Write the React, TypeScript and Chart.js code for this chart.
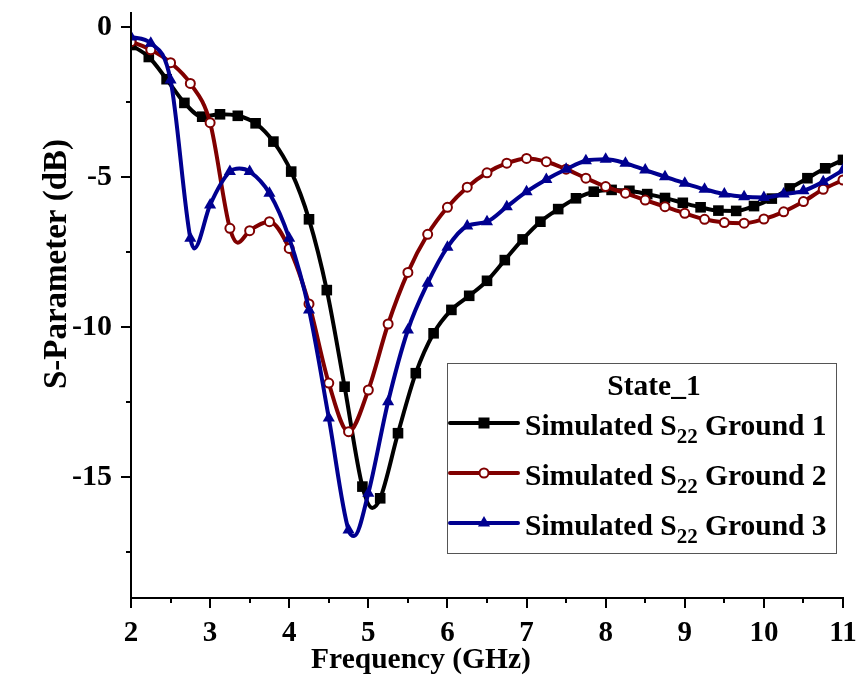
import React, { useEffect, useRef } from "react";
import { Chart, registerables } from "chart.js";
Chart.register(...registerables);

// ---- axis ranges & ticks ----
const X_MIN = 2;
const X_MAX = 11;
const Y_MIN = -19;
const Y_MAX = 0.5;
const xMajorTicks = [2, 3, 4, 5, 6, 7, 8, 9, 10, 11];
const xMinorTicks = [2.5, 3.5, 4.5, 5.5, 6.5, 7.5, 8.5, 9.5, 10.5];
const yMajorTicks = [0, -5, -10, -15];
const yMinorTicks = [-2.5, -7.5, -12.5, -17.5];
const xTitle = "Frequency (GHz)";
const yTitle = "S-Parameter (dB)";

// ---- series: Simulated S22 Ground 1 ----
const ground1X = [2, 2.225, 2.45, 2.675, 2.9, 3.125, 3.35, 3.575, 3.8, 4.025, 4.25, 4.475, 4.7, 4.925, 5.05, 5.15, 5.375, 5.6, 5.825, 6.05, 6.275, 6.5, 6.725, 6.95, 7.175, 7.4, 7.625, 7.85, 8.075, 8.3, 8.525, 8.75, 8.975, 9.2, 9.425, 9.65, 9.875, 10.1, 10.325, 10.55, 10.775, 11];
const ground1Y = [-0.6, -1.0, -1.74, -2.53, -2.99, -2.91, -2.96, -3.21, -3.82, -4.82, -6.41, -8.77, -11.99, -15.32, -16.03, -15.71, -13.54, -11.54, -10.21, -9.43, -8.96, -8.46, -7.77, -7.08, -6.49, -6.07, -5.71, -5.49, -5.43, -5.46, -5.57, -5.7, -5.86, -6.01, -6.12, -6.13, -5.97, -5.72, -5.38, -5.04, -4.71, -4.43];
const ground1Unmarked = [5.05];

// ---- series: Simulated S22 Ground 2 ----
const ground2X = [2, 2.25, 2.5, 2.75, 3, 3.25, 3.35, 3.5, 3.75, 4, 4.25, 4.5, 4.75, 5, 5.25, 5.5, 5.75, 6, 6.25, 6.5, 6.75, 7, 7.25, 7.5, 7.75, 8, 8.25, 8.5, 8.75, 9, 9.25, 9.5, 9.75, 10, 10.25, 10.5, 10.75, 11];
const ground2Y = [-0.49, -0.76, -1.19, -1.88, -3.19, -6.71, -7.19, -6.79, -6.49, -7.38, -9.23, -11.87, -13.49, -12.1, -9.9, -8.18, -6.91, -6.01, -5.34, -4.86, -4.54, -4.38, -4.49, -4.74, -5.04, -5.32, -5.54, -5.77, -5.99, -6.21, -6.41, -6.52, -6.54, -6.4, -6.16, -5.82, -5.41, -5.1];
const ground2Unmarked = [3.35];

// ---- series: Simulated S22 Ground 3 ----
const ground3X = [2, 2.25, 2.5, 2.75, 2.8, 3, 3.25, 3.37, 3.5, 3.75, 4, 4.25, 4.5, 4.75, 4.82, 5, 5.25, 5.5, 5.75, 6, 6.25, 6.5, 6.75, 7, 7.25, 7.5, 7.75, 8, 8.25, 8.5, 8.75, 9, 9.25, 9.5, 9.75, 10, 10.25, 10.5, 10.75, 11];
const ground3Y = [-0.33, -0.54, -1.77, -7.04, -7.38, -5.93, -4.82, -4.72, -4.82, -5.54, -7.04, -9.43, -13.03, -16.77, -16.97, -15.54, -12.49, -10.1, -8.54, -7.34, -6.63, -6.49, -5.99, -5.49, -5.08, -4.74, -4.46, -4.41, -4.54, -4.77, -4.99, -5.21, -5.41, -5.57, -5.66, -5.68, -5.57, -5.46, -5.16, -4.77];
const ground3Unmarked = [2.8, 3.37, 4.82];

const legendTitle = "State_1";
const legendLabels = [
  { pre: "Simulated S", sub: "22", post: " Ground 1" },
  { pre: "Simulated S", sub: "22", post: " Ground 2" },
  { pre: "Simulated S", sub: "22", post: " Ground 3" },
];

const BLACK = "#000000";
const RED = "#800000";
const BLUE = "#000090";
const FONT = "'Times New Roman', 'Liberation Serif', serif";

function pts(xs: number[], ys: number[]) {
  return xs.map((x, i) => ({ x, y: ys[i] }));
}

function drawMarker(ctx: CanvasRenderingContext2D, style: string, x: number, y: number, color: string) {
  ctx.save();
  if (style === "rect") {
    ctx.fillStyle = color;
    ctx.fillRect(x - 5.5, y - 5.5, 11, 11);
  } else if (style === "circle") {
    ctx.beginPath();
    ctx.arc(x, y, 4.5, 0, Math.PI * 2);
    ctx.fillStyle = "#ffffff";
    ctx.fill();
    ctx.lineWidth = 2;
    ctx.strokeStyle = color;
    ctx.stroke();
  } else {
    const r = 7;
    ctx.beginPath();
    ctx.moveTo(x, y - r);
    ctx.lineTo(x + r * Math.sin((2 * Math.PI) / 3), y - r * Math.cos((2 * Math.PI) / 3));
    ctx.lineTo(x + r * Math.sin((4 * Math.PI) / 3), y - r * Math.cos((4 * Math.PI) / 3));
    ctx.closePath();
    ctx.fillStyle = color;
    ctx.fill();
  }
  ctx.restore();
}

const axesPlugin = {
  id: "customAxes",
  afterDatasetsDraw(chart: any) {
    const { ctx, chartArea, scales } = chart;
    const xs = scales.x;
    const ys = scales.y;
    ctx.save();
    ctx.strokeStyle = "#000";
    ctx.lineWidth = 2;
    ctx.lineCap = "butt";
    ctx.beginPath();
    ctx.moveTo(chartArea.left, chartArea.top);
    ctx.lineTo(chartArea.left, chartArea.bottom + 1);
    ctx.lineTo(chartArea.right, chartArea.bottom + 1);
    ctx.stroke();
    ctx.beginPath();
    for (const v of xMajorTicks) {
      const px = Math.round(xs.getPixelForValue(v));
      ctx.moveTo(px, chartArea.bottom);
      ctx.lineTo(px, chartArea.bottom + 11);
    }
    for (const v of xMinorTicks) {
      const px = Math.round(xs.getPixelForValue(v));
      ctx.moveTo(px, chartArea.bottom);
      ctx.lineTo(px, chartArea.bottom + 6);
    }
    for (const v of yMajorTicks) {
      const py = Math.round(ys.getPixelForValue(v));
      ctx.moveTo(chartArea.left, py);
      ctx.lineTo(chartArea.left - 10, py);
    }
    for (const v of yMinorTicks) {
      const py = Math.round(ys.getPixelForValue(v));
      ctx.moveTo(chartArea.left, py);
      ctx.lineTo(chartArea.left - 5, py);
    }
    ctx.stroke();

    // axis titles
    ctx.fillStyle = "#000";
    ctx.textAlign = "center";
    ctx.textBaseline = "middle";
    ctx.font = `bold 29.5px ${FONT}`;
    ctx.fillText(xTitle, 421, 660);
    ctx.translate(57, 264);
    ctx.rotate(-Math.PI / 2);
    ctx.font = `bold 33px ${FONT}`;
    ctx.fillText(yTitle, 0, 0);
    ctx.restore();
  },
};

const legendPlugin = {
  id: "customLegend",
  afterDraw(chart: any) {
    const { ctx } = chart;
    const bx = 447, by = 363, bw = 389, bh = 190;
    ctx.save();
    ctx.fillStyle = "#ffffff";
    ctx.fillRect(bx, by, bw, bh);
    ctx.strokeStyle = "#555555";
    ctx.lineWidth = 1;
    ctx.strokeRect(bx + 0.5, by + 0.5, bw, bh);

    ctx.fillStyle = "#000";
    ctx.font = `bold 29.5px ${FONT}`;
    ctx.textAlign = "center";
    ctx.textBaseline = "alphabetic";
    ctx.fillText(legendTitle, 654, 395);

    const colors = [BLACK, RED, BLUE];
    const styles = ["rect", "circle", "triangle"];
    const rowsY = [423, 473, 523];
    legendLabels.forEach((lab, i) => {
      const y = rowsY[i];
      ctx.strokeStyle = colors[i];
      ctx.lineWidth = 4;
      ctx.lineCap = "round";
      ctx.beginPath();
      ctx.moveTo(450, y);
      ctx.lineTo(518, y);
      ctx.stroke();
      drawMarker(ctx, styles[i], 484, y, colors[i]);

      ctx.fillStyle = "#000";
      ctx.textAlign = "left";
      let tx = 525;
      const base = y + 12;
      ctx.font = `bold 29.5px ${FONT}`;
      ctx.fillText(lab.pre, tx, base);
      tx += ctx.measureText(lab.pre).width;
      ctx.font = `bold 21px ${FONT}`;
      ctx.fillText(lab.sub, tx, base + 8);
      tx += ctx.measureText(lab.sub).width;
      ctx.font = `bold 29.5px ${FONT}`;
      ctx.fillText(lab.post, tx, base);
    });
    ctx.restore();
  },
};

export default function App() {
  const ref = useRef<HTMLCanvasElement | null>(null);
  useEffect(() => {
    if (!ref.current) return;
    const mk = (unmarked: number[], r: number) => (c: any) =>
      c.raw && unmarked.includes(c.raw.x) ? 0 : r;
    const chart = new Chart(ref.current, {
      type: "line",
      data: {
        datasets: [
          {
            label: "Simulated S22 Ground 1",
            data: pts(ground1X, ground1Y),
            borderColor: BLACK,
            backgroundColor: BLACK,
            borderWidth: 4,
            pointStyle: "rect",
            pointRadius: mk(ground1Unmarked, 7.5),
            pointBorderWidth: 0,
            pointBackgroundColor: BLACK,
            cubicInterpolationMode: "monotone",
            order: 3,
          },
          {
            label: "Simulated S22 Ground 2",
            data: pts(ground2X, ground2Y),
            borderColor: RED,
            backgroundColor: "#ffffff",
            borderWidth: 4,
            pointStyle: "circle",
            pointRadius: mk(ground2Unmarked, 4.5),
            pointBorderWidth: 2,
            pointBorderColor: RED,
            pointBackgroundColor: "#ffffff",
            cubicInterpolationMode: "monotone",
            order: 2,
          },
          {
            label: "Simulated S22 Ground 3",
            data: pts(ground3X, ground3Y),
            borderColor: BLUE,
            backgroundColor: BLUE,
            borderWidth: 4,
            pointStyle: "triangle",
            pointRadius: mk(ground3Unmarked, 7),
            pointBorderWidth: 0,
            pointBackgroundColor: BLUE,
            cubicInterpolationMode: "monotone",
            order: 1,
          },
        ],
      },
      options: {
        responsive: false,
        animation: false,
        events: [],
        layout: { padding: { left: 0, top: 12, right: 14, bottom: 0 } },
        plugins: { legend: { display: false }, tooltip: { enabled: false } },
        scales: {
          x: {
            type: "linear",
            min: X_MIN,
            max: X_MAX,
            grid: { display: false, drawTicks: false },
            border: { display: false },
            afterBuildTicks: (s: any) => {
              s.ticks = xMajorTicks.map((v) => ({ value: v }));
            },
            afterFit: (s: any) => {
              s.height = 80;
              s.paddingLeft = 0;
              s.paddingRight = 0;
            },
            ticks: {
              color: "#000",
              padding: 19,
              maxRotation: 0,
              autoSkip: false,
              font: { family: FONT, size: 29, weight: "bold" },
            },
            title: { display: false },
          },
          y: {
            type: "linear",
            min: Y_MIN,
            max: Y_MAX,
            grid: { display: false, drawTicks: false },
            border: { display: false },
            afterBuildTicks: (s: any) => {
              s.ticks = yMajorTicks.map((v) => ({ value: v }));
            },
            afterFit: (s: any) => {
              s.width = 131;
              s.paddingTop = 0;
              s.paddingBottom = 0;
            },
            ticks: {
              color: "#000",
              padding: 19,
              autoSkip: false,
              font: { family: FONT, size: 30, weight: "bold" },
            },
            title: { display: false },
          },
        },
      },
      plugins: [axesPlugin, legendPlugin],
    } as any);
    return () => chart.destroy();
  }, []);
  return (
    <div style={{ position: "absolute", left: 0, top: 0, width: 857, height: 677, background: "#fff" }}>
      <canvas ref={ref} width={857} height={677} style={{ display: "block" }} />
    </div>
  );
}
